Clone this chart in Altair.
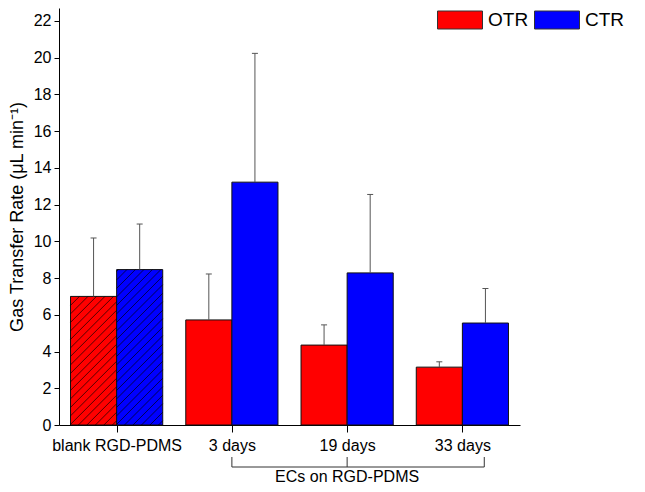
import json
import altair as alt
import pandas as pd

# ---- data ----
groups = ["blank RGD-PDMS", "3 days", "19 days", "33 days"]
series = ["OTR", "CTR"]
otr = [7.0, 5.72, 4.35, 3.15]
ctr = [8.46, 13.22, 8.28, 5.55]
otr_err = [3.18, 2.50, 1.10, 0.29]
ctr_err = [2.48, 7.01, 4.27, 1.88]
hatched = [True, False, False, False]
y_ticks = list(range(0, 23, 2))
bracket_label = "ECs on RGD-PDMS"
bracket_ticks = [1.5, 2.5, 3.69]
colors = ["#FF0000", "#0000FF"]

# ---- layout ----
W, H = 461, 417
YMAX = 22.7
sx = W / len(groups)
sy = H / YMAX
BAR = 0.4
FONT = "Liberation Sans"

rows = []
for i, g in enumerate(groups):
    for s, (vals, errs) in enumerate([(otr, otr_err), (ctr, ctr_err)]):
        x0 = i + 0.1 + BAR * s
        rows.append(dict(group=g, series=series[s], x0=x0, x1=x0 + BAR,
                         xc=x0 + BAR / 2, v=vals[i], up=vals[i] + errs[i],
                         zero=0.0, hatch=hatched[i],
                         cl=x0 + BAR / 2 - 3 / sx, cr=x0 + BAR / 2 + 3 / sx))
df = pd.DataFrame(rows)

# hatch segments (45 degree lines inside the hatched bars)
hrows = []
step = 8.5
for r in rows:
    if not r["hatch"]:
        continue
    wpx = BAR * sx
    hpx = r["v"] * sy
    c = -wpx + step / 2
    while c < hpx:
        ua = max(0.0, -c)
        ub = min(wpx, hpx - c)
        if ub > ua:
            hrows.append(dict(xa=r["x0"] + ua / sx, ya=(ua + c) / sy,
                              xb=r["x0"] + ub / sx, yb=(ub + c) / sy))
        c += step
hdf = pd.DataFrame(hrows)

xscale = alt.Scale(domain=[0, len(groups)], nice=False, zero=False)
yscale = alt.Scale(domain=[0, YMAX], nice=False, zero=True)
label_expr = json.dumps(groups) + "[floor(datum.value)]"

xaxis = alt.Axis(values=[i + 0.5 for i in range(len(groups))], labelExpr=label_expr,
                 title=None, grid=False, tickSize=7, labelPadding=5,
                 labelFontSize=16, labelColor="black", domainColor="black",
                 tickColor="black", labelFont=FONT, labelOverlap=False)
yaxis = alt.Axis(values=y_ticks, title="Gas Transfer Rate (μL min⁻¹)", grid=False,
                 tickSize=5, labelPadding=3, labelFontSize=16, labelColor="black",
                 domainColor="black", tickColor="black", titleFontSize=18,
                 titleFontWeight="normal", titleColor="black", titlePadding=7,
                 labelFont=FONT, titleFont=FONT, labelOverlap=False)


def X(f):
    return alt.X(f, scale=xscale, axis=xaxis)


def Y(f):
    return alt.Y(f, scale=yscale, axis=yaxis)


bars = alt.Chart(df).mark_rect(stroke="#111", strokeWidth=1).encode(
    x=X("x0:Q"),
    x2="x1:Q",
    y=Y("v:Q"),
    y2="zero:Q",
    fill=alt.Fill("series:N", scale=alt.Scale(domain=series, range=colors),
                  legend=alt.Legend(orient="none", legendX=378, legendY=-11,
                                    direction="horizontal", title=None,
                                    symbolType="M-1,-0.4H1V0.4H-1Z", symbolSize=2025,
                                    symbolStrokeColor="#333", symbolStrokeWidth=1,
                                    labelFontSize=19, labelOffset=5, columnPadding=3,
                                    labelColor="black", labelFont=FONT, padding=0,
                                    symbolOpacity=1)),
)

hatch = alt.Chart(hdf).mark_rule(color="#000", strokeWidth=0.9, opacity=0.75).encode(
    x=X("xa:Q"), y=Y("ya:Q"), x2="xb:Q", y2="yb:Q")

err = alt.Chart(df).mark_rule(color="#555", strokeWidth=1).encode(
    x=X("xc:Q"), y=Y("v:Q"), y2="up:Q")
caps = alt.Chart(df).mark_rule(color="#555", strokeWidth=1).encode(
    x=X("cl:Q"), x2="cr:Q", y=Y("up:Q"))

bdf = pd.DataFrame({"x": bracket_ticks})
bline = alt.Chart(pd.DataFrame({"a": [bracket_ticks[0]], "b": [bracket_ticks[-1]]})).mark_rule(
    color="#333", strokeWidth=1).encode(x=X("a:Q"), x2="b:Q", y=alt.value(459))
btick = alt.Chart(bdf).mark_rule(color="#333", strokeWidth=1).encode(
    x=X("x:Q"), y=alt.value(449), y2=alt.value(459))
btext = alt.Chart(pd.DataFrame({"x": [2.5], "t": [bracket_label]})).mark_text(
    fontSize=16, font=FONT, color="black", baseline="middle").encode(
    x=X("x:Q"), y=alt.value(469), text="t:N")

chart = alt.layer(bars, hatch, err, caps, bline, btick, btext).properties(
    width=W, height=H,
    padding={"left": 51, "top": 0, "right": 110, "bottom": 59},
    autosize=alt.AutoSizeParams(type="none"),
).configure(font=FONT).configure_view(strokeWidth=0, stroke="transparent")

chart.save("out.html", embed_options={"renderer": "svg", "actions": False})
